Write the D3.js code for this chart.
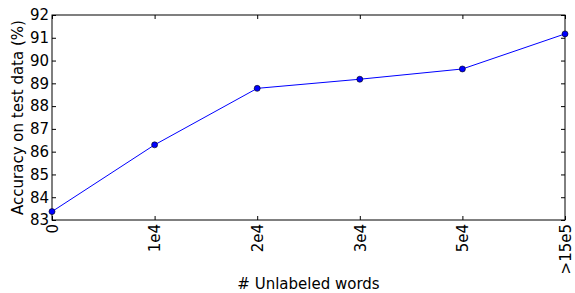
<!DOCTYPE html>
<html>
<head>
<meta charset="utf-8">
<script src="https://cdn.jsdelivr.net/npm/d3@7"></script>
<style>
  body { margin: 0; background: #fff; }
  text { font-family: "DejaVu Sans", sans-serif; fill: #000; }
</style>
</head>
<body>
<svg class="chart"></svg>
<script>
// Data
var categories = ["0", "1e4", "2e4", "3e4", "5e4", ">15e5"];
var accuracy = [83.37, 86.3, 88.78, 89.18, 89.63, 91.17];
var yTicks = [83, 84, 85, 86, 87, 88, 89, 90, 91, 92];

var w = 575,
    h = 293;

var svg = d3.select(".chart")
    .attr("width", w)
    .attr("height", h);

var margin = { top: 15, right: 10, bottom: 73, left: 52 },
    width = w - margin.left - margin.right,
    height = h - margin.top - margin.bottom,
    g = svg.append("g").attr("transform", "translate(" + margin.left + "," + margin.top + ")");

var xScale = d3.scalePoint()
    .domain(categories)
    .range([0, width]);

var yScale = d3.scaleLinear()
    .domain([83, 92])
    .range([height, 0]);

// frame
g.append("rect")
    .attr("x", 0).attr("y", 0)
    .attr("width", width).attr("height", height)
    .attr("fill", "none")
    .attr("stroke", "#000")
    .attr("stroke-width", 1);

// inward ticks on all sides
var tl = 4;
var xAxis = d3.axisBottom(xScale).tickSizeInner(-tl).tickSizeOuter(0).tickFormat("");
var xAxisTop = d3.axisTop(xScale).tickSizeInner(-tl).tickSizeOuter(0).tickFormat("");
var yAxis = d3.axisLeft(yScale).tickValues(yTicks).tickSizeInner(-tl).tickSizeOuter(0).tickPadding(6);
var yAxisRight = d3.axisRight(yScale).tickValues(yTicks).tickSizeInner(-tl).tickSizeOuter(0).tickFormat("");

var gx = g.append("g").attr("transform", "translate(0," + height + ")").call(xAxis);
g.append("g").call(xAxisTop);
var gy = g.append("g").call(yAxis);
g.append("g").attr("transform", "translate(" + width + ",0)").call(yAxisRight);

g.selectAll(".domain").remove();
g.selectAll(".tick line").attr("stroke", "#000");

gy.selectAll("text")
    .style("font-size", "15px")
    .style("font-family", "DejaVu Sans")
    .attr("fill", "#000")
    .attr("x", -3);

// rotated x labels
gx.selectAll(".tick")
    .append("text")
    .attr("transform", "translate(0,4) rotate(-90)")
    .attr("text-anchor", "end")
    .attr("dy", "0.35em")
    .style("font-size", "15px")
    .text(function(d) { return d; });

// line + markers
var line = d3.line()
    .x(function(d, i) { return xScale(categories[i]); })
    .y(function(d) { return yScale(d); });

g.append("path")
    .datum(accuracy)
    .attr("fill", "none")
    .attr("stroke", "#0000ff")
    .attr("stroke-width", 1)
    .attr("d", line);

g.selectAll(".pt")
    .data(accuracy)
    .enter().append("circle")
    .attr("class", "pt")
    .attr("cx", function(d, i) { return xScale(categories[i]); })
    .attr("cy", function(d) { return yScale(d); })
    .attr("r", 3)
    .attr("fill", "#0000ff")
    .attr("stroke", "#000")
    .attr("stroke-width", 0.6);

// axis labels
svg.append("text")
    .attr("x", margin.left + width / 2)
    .attr("y", 289)
    .attr("text-anchor", "middle")
    .style("font-size", "15px")
    .text("# Unlabeled words");

svg.append("text")
    .attr("transform", "translate(23," + (margin.top + height / 2) + ") rotate(-90)")
    .attr("text-anchor", "middle")
    .style("font-size", "15px")
    .text("Accuracy on test data (%)");
</script>
</body>
</html>
